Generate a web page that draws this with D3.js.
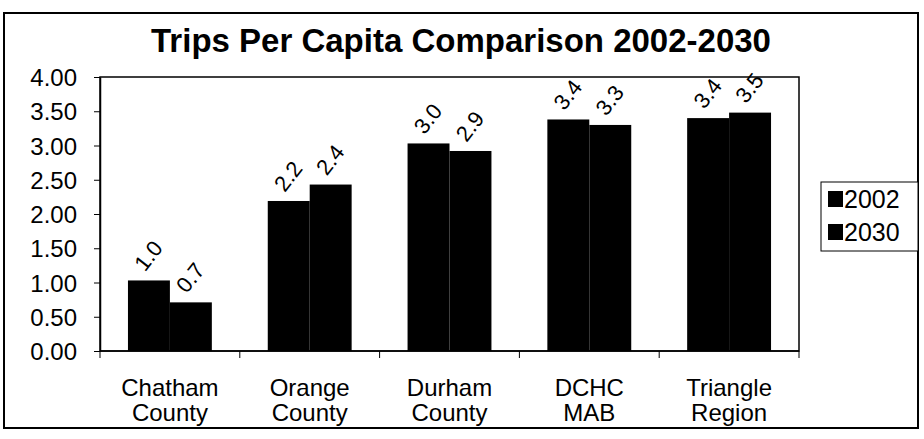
<!DOCTYPE html>
<html><head><meta charset="utf-8">
<script src="https://cdn.jsdelivr.net/npm/d3@7/dist/d3.min.js"></script>
<style>body{margin:0;background:#fff}svg{display:block}text{font-family:"Liberation Sans",Arial,sans-serif;fill:#000}</style>
</head><body><svg id="c" width="924" height="439"></svg>
<script>
const categories = [["Chatham","County"],["Orange","County"],["Durham","County"],["DCHC","MAB"],["Triangle","Region"]];
const seriesNames = ["2002","2030"];
const values2002 = [1.03, 2.19, 3.03, 3.38, 3.40];
const values2030 = [0.71, 2.43, 2.92, 3.30, 3.48];
const yTicks = [0,0.5,1,1.5,2,2.5,3,3.5,4];

const svg = d3.select("#c");
const m = {l:100, r:799, t:77, b:351};
svg.append("rect").attr("x",4).attr("y",13).attr("width",914).attr("height",415)
  .attr("fill","none").attr("stroke","#000").attr("stroke-width",2);
svg.append("text").attr("x",461).attr("y",52).attr("text-anchor","middle")
  .style("font-size","33px").style("font-weight","bold").text("Trips Per Capita Comparison 2002-2030");

const keys = categories.map((c,i)=>i);
const x0 = d3.scaleBand().domain(keys).range([m.l,m.r]).paddingInner(0.4).paddingOuter(0.2);
const x1 = d3.scaleBand().domain(seriesNames).range([0,x0.bandwidth()]);
const y = d3.scaleLinear().domain([0,4]).range([m.b,m.t]);

svg.append("rect").attr("x",m.l).attr("y",m.t).attr("width",m.r-m.l).attr("height",m.b-m.t)
  .attr("fill","none").attr("stroke","#000").attr("stroke-width",1.5);

const data = keys.map(i=>[{s:"2002",v:values2002[i]},{s:"2030",v:values2030[i]}]);
const g = svg.append("g");
keys.forEach(i=>{
  data[i].forEach(d=>{
    const bx = x0(i)+x1(d.s);
    g.append("rect").attr("x",bx).attr("y",y(d.v)).attr("width",x1.bandwidth()).attr("height",y(0)-y(d.v)).attr("fill","#000");
    const cx = bx + x1.bandwidth()/2 - 4, cy = y(d.v) - 8;
    g.append("text").attr("transform",`translate(${cx},${cy}) rotate(-52)`)
      .style("font-size","22px").text(d3.format(".1f")(d.v));
  });
});

const yAxis = d3.axisLeft(y).tickValues(yTicks).tickFormat(d3.format(".2f")).tickSize(6).tickSizeOuter(0);
const ya = svg.append("g").attr("transform",`translate(${m.l},0)`).call(yAxis);
ya.select(".domain").attr("stroke-width",1.5);
ya.selectAll("text").style("font-size","24px").attr("x",-23).attr("dy","0.36em");

const xTickPos = d3.range(categories.length+1).map(i=>m.l + i*x0.step());
const xa = svg.append("g");
xa.append("line").attr("x1",m.l).attr("x2",m.r).attr("y1",m.b).attr("y2",m.b).attr("stroke","#000").attr("stroke-width",1.5);
xa.selectAll("line.t").data(xTickPos).join("line").attr("class","t")
  .attr("x1",d=>d).attr("x2",d=>d).attr("y1",m.b).attr("y2",m.b+7).attr("stroke","#000");
keys.forEach(i=>{
  const cx = x0(i)+x0.bandwidth()/2;
  const t = xa.append("text").attr("text-anchor","middle").style("font-size","24px");
  t.append("tspan").attr("x",cx).attr("y",396).text(categories[i][0]);
  t.append("tspan").attr("x",cx).attr("y",421).text(categories[i][1]);
});

const lg = svg.append("g");
lg.append("rect").attr("x",821).attr("y",182).attr("width",97).attr("height",69).attr("fill","#fff").attr("stroke","#000").attr("stroke-width",1);
seriesNames.forEach((s,i)=>{
  lg.append("rect").attr("x",828).attr("y",191+i*33).attr("width",15).attr("height",16).attr("fill","#000");
  lg.append("text").attr("x",844).attr("y",208+i*33).style("font-size","25px").text(s);
});
</script></body></html>
